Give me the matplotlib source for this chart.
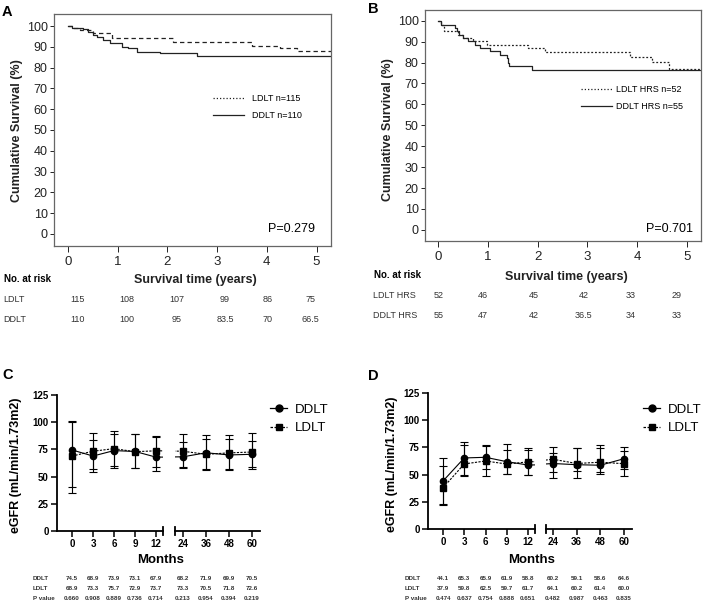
import numpy as np
import matplotlib
matplotlib.use("Agg")
import matplotlib.pyplot as plt
from matplotlib.lines import Line2D
from matplotlib.transforms import blended_transform_factory

plt.rcParams['font.family'] = ['Liberation Sans', 'DejaVu Sans']

# ---- panel A: Kaplan-Meier, all patients ----
a_ldlt_t = [0, 0.1, 0.24, 0.51, 0.88, 2.12, 3.7, 4.27, 4.6, 5.4]
a_ldlt_s = [100, 99.1, 98.2, 96.5, 94.1, 92.2, 90.5, 89.4, 88.1, 88.1]
a_ddlt_t = [0, 0.08, 0.31, 0.41, 0.51, 0.58, 0.71, 0.85, 1.08, 1.21, 1.38, 1.85, 2.59, 5.4]
a_ddlt_s = [100, 99.2, 98.4, 97.3, 95.7, 94.9, 93.3, 91.7, 90.1, 89.3, 87.7, 86.9, 85.6, 85.6]
a_risk_ldlt = ['115', '108', '107', '99', '86', '75']
a_risk_ddlt = ['110', '100', '95', '83.5', '70', '66.5']

# ---- panel B: Kaplan-Meier, HRS patients ----
b_ldlt_t = [0, 0.05, 0.12, 0.40, 0.50, 0.70, 0.97, 1.81, 2.15, 3.86, 4.31, 4.65, 5.4]
b_ldlt_s = [100, 98.1, 94.9, 93.3, 91.7, 90.1, 88.5, 86.9, 84.8, 82.5, 80.1, 76.9, 76.9]
b_ddlt_t = [0, 0.05, 0.34, 0.37, 0.42, 0.5, 0.6, 0.74, 0.84, 1.04, 1.24, 1.38, 1.41, 1.43, 1.88, 5.4]
b_ddlt_s = [100, 98.1, 96.5, 94.9, 93.3, 91.7, 90.1, 88.5, 86.9, 85.3, 83.7, 82.1, 79.7, 78.1, 76.6, 76.6]
b_risk_ldlt = ['52', '46', '45', '42', '33', '29']
b_risk_ddlt = ['55', '47', '42', '36.5', '34', '33']

# ---- panels C / D: eGFR over time ----
months = [0, 3, 6, 9, 12, 24, 36, 48, 60]
c_ddlt = [74.5, 68.9, 73.9, 73.1, 67.9, 68.2, 71.9, 69.9, 70.5]
c_ldlt = [68.9, 73.3, 75.7, 72.9, 73.7, 73.3, 70.5, 71.8, 72.6]
c_ddlt_hi = [101, 84, 89, 89, 86, 82, 85, 85, 83]
c_ddlt_lo = [40, 54, 58, 58, 55, 58, 56, 56, 57]
c_ldlt_hi = [100, 90, 92, 89, 87, 89, 88, 88, 90]
c_ldlt_lo = [35, 57, 60, 58, 59, 59, 57, 57, 59]
c_p = ['0.660', '0.908', '0.889', '0.736', '0.714', '0.213', '0.954', '0.394', '0.219']

d_ddlt = [44.1, 65.3, 65.9, 61.9, 58.8, 60.2, 59.1, 58.6, 64.6]
d_ldlt = [37.9, 59.8, 62.5, 59.7, 61.7, 64.1, 60.2, 61.4, 60.0]
d_ddlt_hi = [65, 80, 77, 78, 74, 75, 74, 77, 75]
d_ddlt_lo = [22, 50, 55, 51, 50, 47, 47, 51, 49]
d_ldlt_hi = [58, 77, 76, 73, 73, 70, 74, 74, 72]
d_ldlt_lo = [23, 49, 49, 51, 50, 52, 53, 52, 55]
d_p = ['0.474', '0.637', '0.754', '0.888', '0.651', '0.482', '0.987', '0.463', '0.835']

W, H = 709, 603
fig = plt.figure(figsize=(W / 100, H / 100), dpi=100)


def box(l, t, r, b):
    return fig.add_axes([l / W, 1 - b / H, (r - l) / W, (b - t) / H])


def ftext(x, y, s, **kw):
    fig.text(x / W, 1 - y / H, s, **kw)


def km_panel(l, t, r, b, xlim, ylim, ldlt_t, ldlt_s, ddlt_t, ddlt_s, ldlt_ls):
    ax = box(l, t, r, b)
    ax.step(ldlt_t, ldlt_s, where='post', color='#222222', lw=0.9, ls=ldlt_ls)
    ax.step(ddlt_t, ddlt_s, where='post', color='#222222', lw=0.9)
    ax.set_xlim(*xlim)
    ax.set_ylim(*ylim)
    ax.set_xticks(range(6))
    ax.set_yticks(range(0, 101, 10))
    ax.tick_params(axis='y', length=3, width=0.7, pad=1.5, labelsize=9, colors='#222222')
    ax.tick_params(axis='x', length=4, width=0.7, pad=3, labelsize=9.5, colors='#222222')
    for sp in ax.spines.values():
        sp.set_color('#666666')
        sp.set_linewidth(0.9)
    return ax


# panel A
axA = km_panel(54, 14, 331, 246, (-0.28, 5.29), (-5.8, 105.8),
               a_ldlt_t, a_ldlt_s, a_ddlt_t, a_ddlt_s, (0, (3.5, 2.5)))
hA = [Line2D([], [], color='#222222', lw=0.9, ls=(0, (1, 1.6))),
      Line2D([], [], color='#222222', lw=0.9)]
axA.legend(hA, ['LDLT n=115', 'DDLT n=110'], loc='upper left',
           bbox_to_anchor=(213 / W, 1 - 94 / H), bbox_transform=fig.transFigure,
           frameon=False, fontsize=6.5, handlelength=3.4, handletextpad=0.9,
           labelspacing=0.9, borderpad=0, borderaxespad=0)
ftext(315, 229, 'P=0.279', ha='right', va='center', fontsize=9)
ftext(2, 12, 'A', fontsize=10.5, fontweight='bold', va='center')
ftext(17, 131, 'Cumulative Survival (%)', rotation=90, ha='center', va='center',
      fontsize=9, fontweight='bold', color='#222222')
ftext(195, 280, 'Survival time (years)', ha='center', va='center',
      fontsize=9, fontweight='bold', color='#222222')
ftext(4, 279, 'No. at risk', va='center', fontsize=7, fontweight='bold')
trA = blended_transform_factory(axA.transData, fig.transFigure)
for x, n1, n2 in zip([0.2, 1.19, 2.19, 3.16, 4.02, 4.87], a_risk_ldlt, a_risk_ddlt):
    axA.text(x, 1 - 299 / H, n1, transform=trA, ha='center', va='center', fontsize=6.5, color='#333333')
    axA.text(x, 1 - 320 / H, n2, transform=trA, ha='center', va='center', fontsize=6.5, color='#333333')
ftext(3, 299, 'LDLT', va='center', fontsize=6.5, color='#333333')
ftext(3, 320, 'DDLT', va='center', fontsize=6.5, color='#333333')

# panel B
axB = km_panel(425, 10, 701, 241, (-0.27, 5.29), (-5.3, 105.1),
               b_ldlt_t, b_ldlt_s, b_ddlt_t, b_ddlt_s, (0, (1.5, 1.5)))
hB = [Line2D([], [], color='#222222', lw=0.9, ls=(0, (1, 1.6))),
      Line2D([], [], color='#222222', lw=0.9)]
axB.legend(hB, ['LDLT HRS n=52', 'DDLT HRS n=55'], loc='upper left',
           bbox_to_anchor=(581 / W, 1 - 85 / H), bbox_transform=fig.transFigure,
           frameon=False, fontsize=6.5, handlelength=3.4, handletextpad=0.5,
           labelspacing=0.9, borderpad=0, borderaxespad=0)
ftext(693, 229, 'P=0.701', ha='right', va='center', fontsize=9)
ftext(368, 9, 'B', fontsize=10.5, fontweight='bold', va='center')
ftext(388, 130, 'Cumulative Survival (%)', rotation=90, ha='center', va='center',
      fontsize=9, fontweight='bold', color='#222222')
ftext(566, 277, 'Survival time (years)', ha='center', va='center',
      fontsize=9, fontweight='bold', color='#222222')
ftext(374, 275, 'No. at risk', va='center', fontsize=7, fontweight='bold')
trB = blended_transform_factory(axB.transData, fig.transFigure)
for x, n1, n2 in zip([0, 0.9, 1.93, 2.92, 3.87, 4.79], b_risk_ldlt, b_risk_ddlt):
    axB.text(x, 1 - 295 / H, n1, transform=trB, ha='center', va='center', fontsize=6.5, color='#333333')
    axB.text(x, 1 - 316 / H, n2, transform=trB, ha='center', va='center', fontsize=6.5, color='#333333')
ftext(373, 295, 'LDLT HRS', va='center', fontsize=6.5, color='#333333')
ftext(373, 316, 'DDLT HRS', va='center', fontsize=6.5, color='#333333')


def egfr_panel(l, r1, l2, r2, t, b, xlim1, xlim2, dd, dd_hi, dd_lo, ld, ld_hi, ld_lo):
    ax1 = box(l, t, r1, b)
    ax2 = box(l2, t, r2, b)
    dd, ld = np.array(dd), np.array(ld)
    for ax in (ax1, ax2):
        ax.errorbar(months, ld, yerr=[ld - np.array(ld_lo), np.array(ld_hi) - ld],
                    fmt='s', ls=(0, (2, 1.2)), color='black', ms=4.5, lw=0.8,
                    elinewidth=0.8, capsize=2.6, capthick=0.8)
        ax.errorbar(months, dd, yerr=[dd - np.array(dd_lo), np.array(dd_hi) - dd],
                    fmt='o', ls='-', color='black', ms=4.5, lw=0.8,
                    elinewidth=0.8, capsize=2.6, capthick=0.8)
        ax.set_ylim(0, 125)
        ax.spines['top'].set_visible(False)
        ax.spines['right'].set_visible(False)
        for sp in ax.spines.values():
            sp.set_linewidth(1.3)
        ax.tick_params(length=4, width=1.1, pad=2, labelsize=7)
    ax1.set_xlim(*xlim1)
    ax2.set_xlim(*xlim2)
    ax1.set_xticks(months[:5])
    ax2.set_xticks(months[5:])
    ax1.set_yticks(range(0, 126, 25))
    ax2.spines['left'].set_visible(False)
    ax2.set_yticks([])
    for lab in ax1.get_xticklabels() + ax1.get_yticklabels() + ax2.get_xticklabels():
        lab.set_fontweight('bold')
    ax1.plot([1, 1], [-0.03, 0.03], transform=ax1.transAxes, color='black', lw=1.3, clip_on=False)
    ax2.plot([0, 0], [-0.03, 0.03], transform=ax2.transAxes, color='black', lw=1.3, clip_on=False)
    return ax1, ax2


def egfr_legend(x, y):
    h = [Line2D([], [], color='black', marker='o', ms=5, lw=0.9),
         Line2D([], [], color='black', marker='s', ms=5, lw=0.9, ls=(0, (2, 1.2)))]
    fig.legend(h, ['DDLT', 'LDLT'], loc='center left', bbox_to_anchor=(x / W, 1 - y / H),
               frameon=False, fontsize=9.5, handlelength=1.3, handletextpad=0.55,
               labelspacing=0.45, borderpad=0, borderaxespad=0)


def egfr_table(ax1, ax2, xlab, dd, ld, pv):
    tr1 = blended_transform_factory(ax1.transData, fig.transFigure)
    tr2 = blended_transform_factory(ax2.transData, fig.transFigure)
    for name, y in zip(['DDLT', 'LDLT', 'P value'], [578, 588, 598]):
        ftext(xlab, y, name, va='center', fontsize=4.5, fontweight='bold', color='#333333')
    for i, m in enumerate(months):
        tr = tr1 if i < 5 else tr2
        ax = ax1 if i < 5 else ax2
        for val, y in zip([f'{dd[i]:.1f}', f'{ld[i]:.1f}', pv[i]], [578, 588, 598]):
            ax.text(m, 1 - y / H, val, transform=tr, ha='center', va='center',
                    fontsize=4.5, fontweight='bold', color='#333333')


# panel C
c1, c2 = egfr_panel(57, 163, 175, 260, 395, 531, (-2.14, 13.0), (19.8, 64.2),
                    c_ddlt, c_ddlt_hi, c_ddlt_lo, c_ldlt, c_ldlt_hi, c_ldlt_lo)
egfr_legend(270, 419)
egfr_table(c1, c2, 33, c_ddlt, c_ldlt, c_p)
ftext(2, 375, 'C', fontsize=10.5, fontweight='bold', va='center')
ftext(16, 465, 'eGFR (mL/min/1.73m2)', rotation=90, ha='center', va='center',
      fontsize=9, fontweight='bold')
ftext(161, 560, 'Months', ha='center', va='center', fontsize=9.5, fontweight='bold')

# panel D
d1, d2 = egfr_panel(428, 535, 546, 632, 393, 529, (-2.12, 12.99), (20.45, 64.06),
                    d_ddlt, d_ddlt_hi, d_ddlt_lo, d_ldlt, d_ldlt_hi, d_ldlt_lo)
egfr_legend(643, 419)
egfr_table(d1, d2, 405, d_ddlt, d_ldlt, d_p)
ftext(368, 376, 'D', fontsize=10.5, fontweight='bold', va='center')
ftext(392, 464, 'eGFR (mL/min/1.73m2)', rotation=90, ha='center', va='center',
      fontsize=9, fontweight='bold')
ftext(532, 560, 'Months', ha='center', va='center', fontsize=9.5, fontweight='bold')

fig.savefig('out.png', dpi=100)
